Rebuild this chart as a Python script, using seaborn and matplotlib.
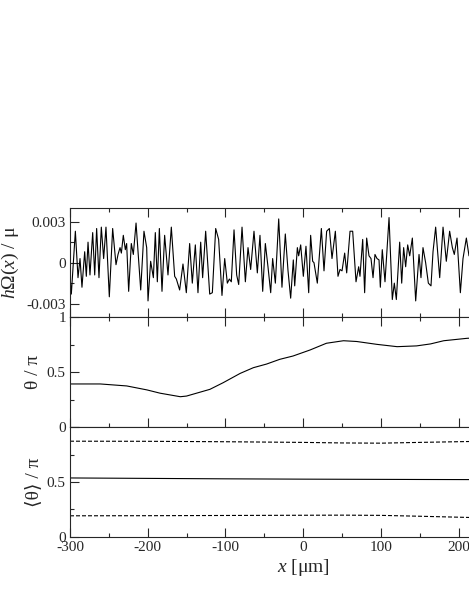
import numpy as np
import pandas as pd
import matplotlib
matplotlib.use('Agg')
import matplotlib.pyplot as plt
from matplotlib.ticker import FixedLocator, FixedFormatter
import seaborn as sns

# top panel: h*Omega(x)/mu, values in units of 1e-3
omega_x = [-300.0, -298.3, -293.1, -289.7, -287.1, -284.6, -281.1, -279.0, -276.8, -274.3,
           -270.8, -268.2, -265.7, -262.7, -259.7, -256.7, -253.7, -249.4, -245.1, -240.8,
           -238.2, -235.6, -233.9, -231.4, -228.8, -227.1, -224.5, -221.1, -218.5, -215.0,
           -211.6, -209.0, -204.8, -201.3, -199.6, -196.2, -192.7, -190.2, -187.6, -185.0,
           -181.6, -178.2, -173.9, -169.6, -165.3, -163.1, -158.9, -154.6, -150.3, -146.0,
           -142.6, -138.7, -135.3, -131.8, -129.3, -125.4, -120.2, -116.8, -112.5, -108.7,
           -104.4, -100.9, -97.5, -94.9, -92.4, -88.9, -85.5, -82.9, -78.6, -74.3,
           -70.9, -67.5, -63.2, -58.9, -55.5, -52.0, -48.6, -45.2, -41.7, -39.2,
           -35.7, -31.4, -27.2, -22.9, -19.4, -16.0, -12.6, -10.8, -7.4, -5.7,
           -3.1, 0.3, 3.7, 7.2, 9.7, 12.3, 14.0, 18.3, 23.5, 26.9,
           30.3, 33.8, 37.2, 41.5, 44.9, 47.5, 50.1, 53.5, 56.1, 60.4,
           63.8, 68.1, 71.5, 73.2, 76.7, 79.2, 81.8, 84.8, 87.4, 90.0,
           92.5, 95.1, 97.7, 99.4, 101.9, 105.4, 110.6, 114.8, 117.4, 120.0,
           124.3, 126.9, 129.4, 132.0, 134.6, 137.2, 140.6, 144.9, 149.2, 151.7,
           154.3, 157.7, 161.2, 164.6, 167.2, 170.6, 175.8, 180.1, 184.3, 188.6,
           192.1, 194.6, 198.1, 202.4, 205.8, 210.1, 213.5, 217.0]
omega_milli = [-1.0, -2.3, 2.3, -1.1, 0.3, -1.8, 0.8, -1.0, 1.5, -0.9,
               2.2, -0.9, 2.5, -1.1, 2.6, 0.3, 2.6, -2.5, 2.5, -0.15,
               0.6, 1.1, 0.7, 2.0, 0.95, 1.4, -2.1, 1.4, 0.6, 2.9,
               0.1, -2.0, 2.3, 1.1, -2.8, 0.1, -1.1, 2.2, -1.4, 2.5,
               -2.1, 2.0, -0.9, 2.6, -1.0, -1.2, -2.0, -0.1, -2.2, 1.4,
               -1.5, 1.3, -2.2, 1.5, -1.1, 2.3, -2.3, -2.2, 2.5, 1.7,
               -2.4, 0.3, -1.5, -1.2, -1.4, 2.4, -0.9, -1.6, 2.6, -1.4,
               1.1, -0.5, 2.3, -0.75, 2.0, -2.1, 1.4, -0.3, -2.2, 0.3,
               -1.5, 3.2, -1.8, 2.1, -0.6, -2.6, 0.2, -1.7, 1.1, 0.5,
               1.3, -1.0, 1.2, -2.2, 2.0, 0.1, 0.0, -1.5, 2.5, -0.6,
               2.3, 2.5, 0.3, 2.3, -1.0, -0.5, -0.6, 0.7, -0.75, 2.3,
               2.3, -1.4, -0.3, -1.0, 1.7, -2.2, 1.8, 0.5, 0.3, -1.1,
               0.6, 0.3, 0.2, -1.8, 0.95, -1.4, 3.3, -2.7, -1.5, -2.7,
               1.5, -1.5, 1.1, -0.3, 1.3, 0.5, 1.8, -2.8, 0.6, -1.1,
               1.1, 0.0, -1.5, -1.7, 0.8, 2.6, -1.1, 2.6, 0.1, 2.3,
               1.1, 0.6, 1.8, -2.2, 0.3, 1.8, 0.5, 1.2]

# middle panel: theta/pi
theta_x = [-300, -261, -227, -201, -184, -158, -150, -120, -103, -81, -64, -47,
           -30, -13, 9, 30, 52, 69, 95, 121, 146, 164, 181, 211, 240]
theta_pi = [0.394, 0.394, 0.376, 0.34, 0.31, 0.278, 0.284, 0.345, 0.405, 0.49, 0.542, 0.575,
            0.618, 0.648, 0.703, 0.764, 0.787, 0.78, 0.754, 0.733, 0.74, 0.758, 0.787, 0.809, 0.82]

# bottom panel: <theta>/pi and its spread
mean_x = [-300, -200, -100, 0, 50, 100, 150, 213, 240]
mean_upper = [0.873, 0.872, 0.868, 0.862, 0.857, 0.855, 0.862, 0.870, 0.872]
mean_mid = [0.537, 0.533, 0.529, 0.526, 0.525, 0.524, 0.523, 0.522, 0.522]
mean_lower = [0.191, 0.192, 0.194, 0.196, 0.197, 0.195, 0.187, 0.176, 0.174]

x_ticks = [-300, -200, -100, 0, 100, 200, 300]
x_minor = [-250, -150, -50, 50, 150, 250]

sns.set_style('ticks')
plt.rcParams['font.family'] = ['Liberation Serif', 'DejaVu Sans']
plt.rcParams['mathtext.fontset'] = 'custom'
plt.rcParams['mathtext.rm'] = 'Liberation Serif'
plt.rcParams['mathtext.it'] = 'Liberation Serif:italic'

fig = plt.figure(figsize=(4.69, 6.07), dpi=100)
W, H = 469.0, 607.0
left = 70 / W
width = 466.2 / W
ax1 = fig.add_axes([left, 1 - 317.3 / H, width, 109.3 / H])
ax2 = fig.add_axes([left, 1 - 427.3 / H, width, 110.0 / H])
ax3 = fig.add_axes([left, 1 - 536.7 / H, width, 109.4 / H])

line_kw = dict(color='black', linewidth=0.8, estimator=None, sort=False)
sns.lineplot(x=omega_x, y=np.array(omega_milli) * 1e-3, ax=ax1, **line_kw)
sns.lineplot(x=theta_x, y=theta_pi, ax=ax2, **line_kw)
dash = (0, (3.6, 1.8))
sns.lineplot(x=mean_x, y=mean_upper, ax=ax3, linestyle=dash, **line_kw)
sns.lineplot(x=mean_x, y=mean_mid, ax=ax3, **line_kw)
sns.lineplot(x=mean_x, y=mean_lower, ax=ax3, linestyle=dash, **line_kw)

for ax in (ax1, ax2, ax3):
    ax.set_xlim(-300, 300)
    ax.xaxis.set_major_locator(FixedLocator(x_ticks))
    ax.xaxis.set_minor_locator(FixedLocator(x_minor))
    for s in ax.spines.values():
        s.set_linewidth(0.8)
    ax.tick_params(which='both', direction='in', width=0.8, labelsize=11, pad=3,
                   right=False, labelbottom=False)
    ax.tick_params(which='major', length=6.5)
    ax.tick_params(which='minor', length=3.2)
    ax.set_xlabel('')

ax1.tick_params(axis='x', which='both', top=True, bottom=True)
ax2.tick_params(axis='x', which='both', top=True, bottom=True)
ax3.tick_params(axis='x', which='both', top=False, bottom=True, labelbottom=True)

ax1.set_ylim(-0.004, 0.004)
ax1.yaxis.set_major_locator(FixedLocator([-0.003, 0, 0.003]))
ax1.yaxis.set_major_formatter(FixedFormatter(['-0.003', '0', '0.003']))
ax1.yaxis.set_minor_locator(FixedLocator([-0.0015, 0.0015]))

for ax, labels in ((ax2, ['0', '0.5', '1']), (ax3, ['0', '0.5', ''])):
    ax.set_ylim(0, 1)
    ax.yaxis.set_major_locator(FixedLocator([0, 0.5, 1]))
    ax.yaxis.set_major_formatter(FixedFormatter(labels))
    ax.yaxis.set_minor_locator(FixedLocator([0.25, 0.75]))

ax3.xaxis.set_major_formatter(FixedFormatter([str(v).replace('\u2212', '-') for v in x_ticks]))

ax1.set_ylabel(r'$h\Omega(x)$ / μ', fontsize=14)
ax2.set_ylabel('θ / π', fontsize=14)
ax3.set_ylabel('⟨θ⟩ / π', fontsize=14)
ax1.yaxis.set_label_coords(-0.105, 0.5)
ax2.yaxis.set_label_coords(-0.060, 0.5)
ax3.yaxis.set_label_coords(-0.060, 0.5)
ax3.set_xlabel(r'$x$ [μm]', fontsize=14)
ax3.xaxis.set_label_coords(0.5, -0.185)

fig.savefig('out.png', dpi=100)
